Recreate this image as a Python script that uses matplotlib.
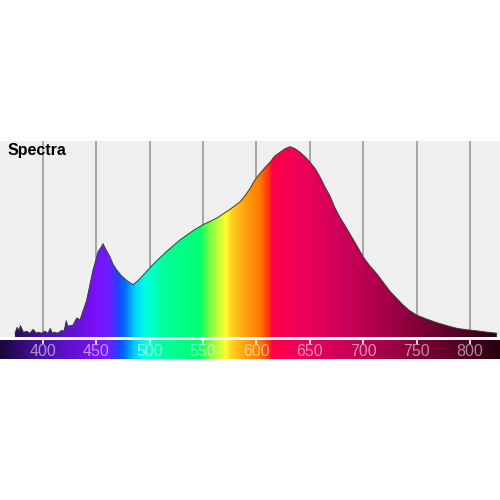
import numpy as np
from matplotlib import pyplot as plt
from matplotlib.colors import LinearSegmentedColormap
from matplotlib.patches import PathPatch

# spectrum (wavelength nm, relative intensity %)
wavelength = [374, 376, 378, 379, 382, 385, 388, 391, 394, 396, 399, 402, 405, 407,
              409, 411, 414, 418, 420, 422, 424, 425, 428, 432, 435, 437, 441, 444,
              447, 450, 452, 454.5, 456.5, 459, 463, 466, 469.5, 474, 479, 484.5,
              489, 494, 503, 516, 528.5, 541, 550, 563, 575, 584.7, 589, 594, 598,
              603.4, 608, 613, 617, 622, 627, 631.5, 636, 641, 645, 650, 655, 659.6,
              664, 669, 673, 678, 683, 687.7, 694, 700, 706, 713, 719, 725, 731, 737,
              743, 750, 759, 769, 778, 788, 797, 806.6, 815, 825]
intensity = [2, 5, 3.5, 6, 2.5, 3, 2, 4, 2, 2.5, 2, 3, 2, 4.5,
             2, 2.5, 2, 3.5, 3, 8.5, 5, 6, 6, 10, 9, 12.5, 19, 27,
             35, 41, 45, 47, 49, 46, 42, 38, 35, 32, 29.5, 27.5,
             29.5, 32.5, 38, 45, 51, 56, 59, 62.5, 67, 71, 74, 78, 82,
             86, 89, 92, 95, 97, 99, 100, 99, 97, 95, 92, 88.5, 84,
             79, 74, 68.5, 63, 58.5, 54, 48, 42, 37.5, 33, 28.5, 24, 20.5, 17,
             14, 11.5, 9.5, 7.5, 6, 4.5, 3.8, 3.2, 2.6, 2]

ticks = [400, 450, 500, 550, 600, 650, 700, 750, 800]

wl_min, wl_max = 360, 828

# colour of each wavelength in the bar
stops = [(360, '#1a0838'), (400, '#4a10a8'), (450, '#7a10f8'), (463, '#6a20ff'),
         (470, '#2040ff'), (477, '#0070ff'), (486, '#00d0ff'), (496, '#00ffe0'),
         (514, '#00ff9a'), (547, '#00ff70'), (557, '#80ff40'), (571, '#ffff30'),
         (577, '#ffd020'), (590, '#ffa010'), (603, '#ff7a00'), (612, '#ff3010'),
         (615, '#ff0048'), (641, '#f00058'), (678, '#d0005a'), (720, '#a8004a'),
         (760, '#780032'), (800, '#4a0020'), (828, '#280010')]
cmap = LinearSegmentedColormap.from_list(
    'spec', [((w - wl_min) / (wl_max - wl_min), c) for w, c in stops], N=1024)
grad = np.linspace(0, 1, 1024).reshape(1, -1)

fig = plt.figure(figsize=(5, 5), dpi=100)

ax = fig.add_axes([0, 0.326, 1, 0.392])
ax.set_facecolor('#efefef')
ax.set_xlim(wl_min, wl_max)
ax.set_ylim(0, 103)
for t in ticks:
    ax.axvline(t, color='#a0a0a0', lw=1.3, zorder=1)

poly = ax.fill_between(wavelength, intensity, 0, color='none', lw=0)
clip = PathPatch(poly.get_paths()[0], transform=ax.transData, facecolor='none', edgecolor='none')
ax.add_patch(clip)
im = ax.imshow(grad, extent=[wl_min, wl_max, 0, 103], aspect='auto', cmap=cmap, zorder=2)
im.set_clip_path(clip)
ax.plot(wavelength, intensity, color='#3a3a3a', lw=0.7, zorder=3)
ax.set_xticks([])
ax.set_yticks([])
for s in ax.spines.values():
    s.set_visible(False)

# colour bar with wavelength labels
cax = fig.add_axes([0, 0.282, 1, 0.038])
cax.imshow(grad, extent=[wl_min, wl_max, 0, 1], aspect='auto', cmap=cmap)
cax.set_xlim(wl_min, wl_max)
cax.set_ylim(0, 1)
cax.set_xticks(ticks)
cax.set_xticklabels([])
cax.set_yticks([])
cax.tick_params(axis='x', direction='in', top=True, bottom=False, color='white',
                length=3, width=1.2)
for s in cax.spines.values():
    s.set_visible(False)
for t in ticks:
    cax.text(t, 0.42, str(t), color='white', alpha=0.55, fontsize=11.5,
             family='Liberation Sans', ha='center', va='center')

fig.text(0.016, 0.70, 'Spectra', fontweight='bold', fontsize=11.5,
         family='Liberation Sans', va='center')

fig.savefig('out.png')
